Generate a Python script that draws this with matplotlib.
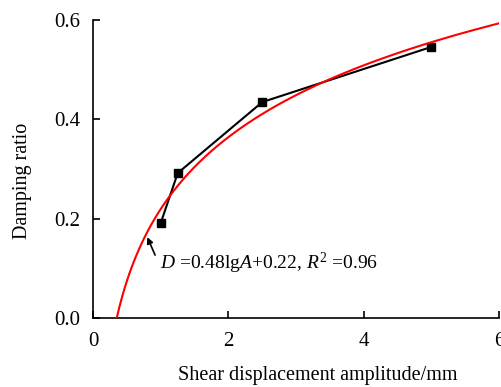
import numpy as np
import matplotlib.pyplot as plt

plt.rcParams['font.family'] = ['Liberation Serif', 'DejaVu Serif']
plt.rcParams['mathtext.fontset'] = 'custom'
plt.rcParams['mathtext.rm'] = 'Liberation Serif'
plt.rcParams['mathtext.it'] = 'Liberation Serif:italic'

# measured damping ratio
amplitude = [1.0, 1.25, 2.5, 5.0]
damping = [0.192, 0.292, 0.435, 0.546]

# fitted curve D = a*lg(A) + b
fit_a = 0.48
fit_b = 0.22

fig = plt.figure(figsize=(5.01, 3.87), dpi=100)
ax = fig.add_axes([0.186, 0.178, 0.81, 0.77])

a_fit = np.linspace(10 ** (-fit_b / fit_a), 6, 300)
ax.plot(a_fit, fit_a * np.log10(a_fit) + fit_b, color='red', lw=1.5, zorder=3)
ax.plot(amplitude, damping, color='black', lw=1.5, marker='s', ms=6, zorder=2)

ax.annotate('', xy=(0.80, 0.163), xytext=(0.915, 0.127),
            arrowprops=dict(arrowstyle='-|>', color='black', lw=1.2, mutation_scale=9,
                            shrinkA=0, shrinkB=0))
ax.text(0.99, 0.111, r'$D$ =0.48lg$A$+0.22, $R^2$ =0.96', fontsize=14, va='center', ha='left')

ax.set_xlim(0, 6)
ax.set_ylim(0, 0.6)
ax.set_xticks([0, 2, 4, 6])
ax.set_yticks([0.0, 0.2, 0.4, 0.6])
ax.set_yticklabels(['0.0', '0.2', '0.4', '0.6'])
ax.tick_params(direction='in', labelsize=15, length=5, width=1.2)
ax.tick_params(axis='x', pad=10)
ax.tick_params(axis='y', pad=9)
for s in ['top', 'right']:
    ax.spines[s].set_visible(False)
for s in ['left', 'bottom']:
    ax.spines[s].set_linewidth(1.2)
ax.set_xlabel('Shear displacement amplitude/mm', fontsize=14.5, labelpad=12)
ax.set_ylabel('Damping ratio', fontsize=14.5, labelpad=16)
ax.xaxis.set_label_coords(0.554, -0.16)
ax.yaxis.label.set_y(0.46)

fig.savefig('out.png', dpi=100)
